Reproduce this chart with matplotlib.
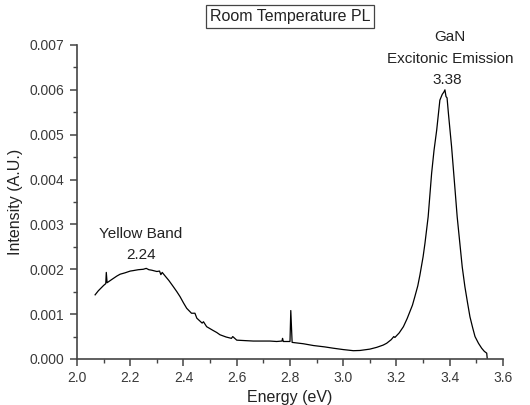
import matplotlib
matplotlib.use("Agg")
from matplotlib import pyplot as plt
from matplotlib.ticker import MultipleLocator

# values
energy = [
    2.068, 2.080, 2.090, 2.100, 2.108, 2.110, 2.113, 2.130, 2.150, 2.162,
    2.180, 2.200, 2.211, 2.230, 2.249, 2.260, 2.270, 2.280, 2.300, 2.310,
    2.315, 2.320, 2.331, 2.345, 2.362, 2.375, 2.387, 2.400, 2.412, 2.430,
    2.443, 2.450, 2.470, 2.475, 2.487, 2.510, 2.525, 2.537, 2.560, 2.580,
    2.585, 2.600, 2.630, 2.662, 2.690, 2.725, 2.750, 2.770, 2.772, 2.775,
    2.800, 2.803, 2.808, 2.850, 2.888, 2.930, 2.963, 3.000, 3.038, 3.063,
    3.100, 3.126, 3.150, 3.163, 3.180, 3.190, 3.194, 3.210, 3.226, 3.240,
    3.250, 3.260, 3.269, 3.280, 3.288, 3.300, 3.307, 3.319, 3.332, 3.341,
    3.351, 3.363, 3.372, 3.378, 3.382, 3.386, 3.390, 3.395, 3.407, 3.420,
    3.428, 3.438, 3.447, 3.457, 3.467, 3.476, 3.486, 3.495, 3.508, 3.520,
    3.530, 3.539, 3.541,
]
intensity = [
    0.00143, 0.00152, 0.00158, 0.00164, 0.00168, 0.00193, 0.00170, 0.00177, 0.00185, 0.00189,
    0.00192, 0.00196, 0.00197, 0.00199, 0.00200, 0.00202, 0.00199, 0.00198, 0.00195, 0.00196,
    0.00188, 0.00193, 0.00185, 0.00175, 0.00161, 0.00150, 0.00139, 0.00125, 0.00113, 0.00102,
    0.00102, 0.00091, 0.00080, 0.00083, 0.00072, 0.00064, 0.00059, 0.00054, 0.00049, 0.00046,
    0.00050, 0.00042, 0.00041, 0.00040, 0.00040, 0.00040, 0.00039, 0.00040, 0.00046, 0.00039,
    0.00039, 0.00108, 0.00037, 0.00034, 0.00030, 0.00027, 0.00024, 0.00021, 0.000185, 0.00019,
    0.00022, 0.00026, 0.00031, 0.00035, 0.00043, 0.00050, 0.00048, 0.00058, 0.00072, 0.00090,
    0.00105, 0.00120, 0.00139, 0.00163, 0.00187, 0.00228, 0.00258, 0.00317, 0.00414, 0.00465,
    0.00510, 0.00577, 0.00590, 0.00595, 0.00600, 0.00585, 0.00582, 0.00548, 0.00473, 0.00377,
    0.00317, 0.00258, 0.00205, 0.00161, 0.00125, 0.00094, 0.00070, 0.00050, 0.00035, 0.00024,
    0.00017, 0.00013, 0.0,
]

plt.rcParams["font.family"] = ["Liberation Sans", "DejaVu Sans"]
axis_color = "#444444"
text_color = "#222222"

fig = plt.figure(figsize=(5.3, 4.05), dpi=100)
ax = fig.add_axes([0.1453, 0.1136, 0.8037, 0.7754])

ax.plot(energy, intensity, color="black", linewidth=0.9)

ax.set_xlim(2.0, 3.6)
ax.set_ylim(0.0, 0.007)
ax.xaxis.set_major_locator(MultipleLocator(0.2))
ax.xaxis.set_minor_locator(MultipleLocator(0.1))
ax.yaxis.set_major_locator(MultipleLocator(0.001))
ax.yaxis.set_minor_locator(MultipleLocator(0.0005))
ax.xaxis.set_major_formatter(plt.FormatStrFormatter("%.1f"))
ax.yaxis.set_major_formatter(plt.FormatStrFormatter("%.3f"))

for side in ["top", "right"]:
    ax.spines[side].set_visible(False)
for side in ["left", "bottom"]:
    ax.spines[side].set_color(axis_color)
    ax.spines[side].set_linewidth(1.2)

ax.tick_params(which="major", direction="out", length=5, width=1.1,
               color=axis_color, labelcolor="#3a3a3a", labelsize=10, pad=4)
ax.tick_params(which="minor", direction="out", length=3, width=1.0,
               color=axis_color)

ax.set_xlabel("Energy (eV)", fontsize=11.5, color=text_color, labelpad=3)
ax.set_ylabel("Intensity (A.U.)", fontsize=11.5, color=text_color, labelpad=5)

ax.set_title("Room Temperature PL", fontsize=11.5, color=text_color, pad=17,
             bbox=dict(facecolor="white", edgecolor="#444444", linewidth=0.9,
                       boxstyle="square,pad=0.25"))

ax.text(3.401, 0.00718, "GaN", ha="center", va="center", fontsize=11, color=text_color)
ax.text(3.401, 0.00669, "Excitonic Emission", ha="center", va="center", fontsize=11, color=text_color)
ax.text(3.389, 0.00622, "3.38", ha="center", va="center", fontsize=11, color=text_color)
ax.text(2.24, 0.00279, "Yellow Band", ha="center", va="center", fontsize=11, color=text_color)
ax.text(2.24, 0.00232, "2.24", ha="center", va="center", fontsize=11, color=text_color)

fig.savefig("out.png", dpi=100)
